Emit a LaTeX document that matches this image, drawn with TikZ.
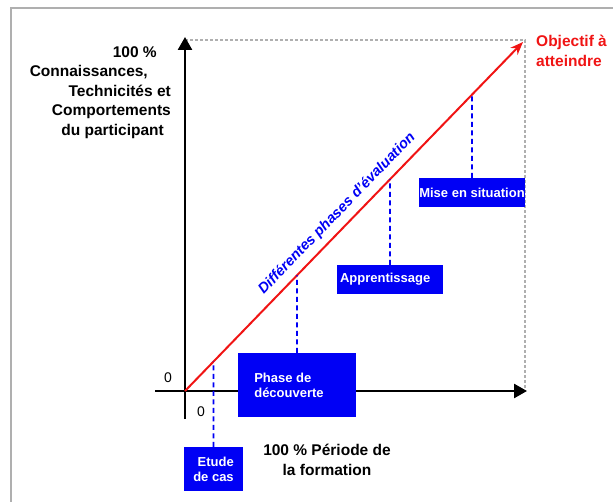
\documentclass[tikz,border=0pt]{standalone}
\usepackage{fontspec}
\setmainfont{Liberation Sans}
\usepackage{xcolor}
\usetikzlibrary{calc, arrows.meta}

\definecolor{phaseblue}{RGB}{0,0,245}
\definecolor{goalred}{RGB}{240,20,20}
\definecolor{framegrey}{RGB}{175,175,175}

\tikzset{
	phasebox/.style = {fill=phaseblue, text=white, inner sep=0pt, font=\bfseries\fontsize{13}{15}\selectfont},
	phasedash/.style = {phaseblue, line width=1.8pt, dash pattern=on 5pt off 3.5pt},
	guide/.style = {framegrey, line width=1.2pt, dash pattern=on 3pt off 2pt},
	axislabel/.style = {inner sep=0pt, font=\bfseries\fontsize{15.5}{19.5}\selectfont},
	zerolabel/.style = {inner sep=0pt, font=\fontsize{14}{16}\selectfont},
}

\begin{document}
\begin{tikzpicture}[x=1pt, y=-1pt]
		\useasboundingbox (0,0) rectangle (613,502);
		\def\xend{525}
		\def\yend{40}
	
		% frame
		\draw[framegrey, line width=1.5pt] (11,502) -- (11,8) -- (613,8);
	
		\coordinate (O) at (185,391);
		\coordinate (goal) at (523,42);
		\coordinate (corner) at (\xend,\yend);
	
		\draw[guide] (185,\yend) -- (corner) -- (\xend,391);
	
		\begin{scope}[line width=2.5pt, -{Triangle[length=13pt,width=14pt]}]
			\draw (155,391) -- (527,391);
			\draw (185,419) -- (185,37);
		\end{scope}
	
		\draw[goalred, line width=2pt, -{Stealth[length=13pt,width=10pt]}] (O) -- (goal)
			node[pos=0.48, sloped, above=3pt, text=phaseblue, font=\bfseries\itshape\fontsize{14.5}{17}\selectfont] {Différentes phases d'évaluation};
	
		% phases
		\node[phasebox, minimum width=59pt, minimum height=44pt, align=right] (etude) at (213.5,469) {Etude\\de cas};
		\node[phasebox, minimum width=118pt, minimum height=64pt, align=left] (decouv) at (297,385) {Phase de\\découverte\kern16pt};
		\node[phasebox, minimum width=106pt, minimum height=29pt, text width=100pt, align=left] (appr) at (390,279.5) {Apprentissage};
		\node[phasebox, minimum width=106pt, minimum height=29pt] (mise) at (472,192.5) {Mise en situation};
	
		\foreach \phase in {etude, decouv, appr, mise}
			\draw[phasedash] (\phase.north) -- (intersection of O--goal and \phase.north--\phase.south);
	
		% labels
		\node[axislabel, align=right, anchor=north east] (ylabel) at (171,46) {100 \%\kern14pt\\Connaissances,\kern23pt\\Technicités et\\Comportements\\du participant\kern7pt};
		\node[axislabel, align=center] (xlabel) at (327,460) {100 \% Période de\\la formation};
		\node[axislabel, text=goalred, align=left, anchor=west] (goaltext) at (536,51) {Objectif à\\atteindre};
		\node[zerolabel] (zeroy) at (168,378) {0};
		\node[zerolabel] (zerox) at (201,412) {0};
	\end{tikzpicture}
\end{document}
